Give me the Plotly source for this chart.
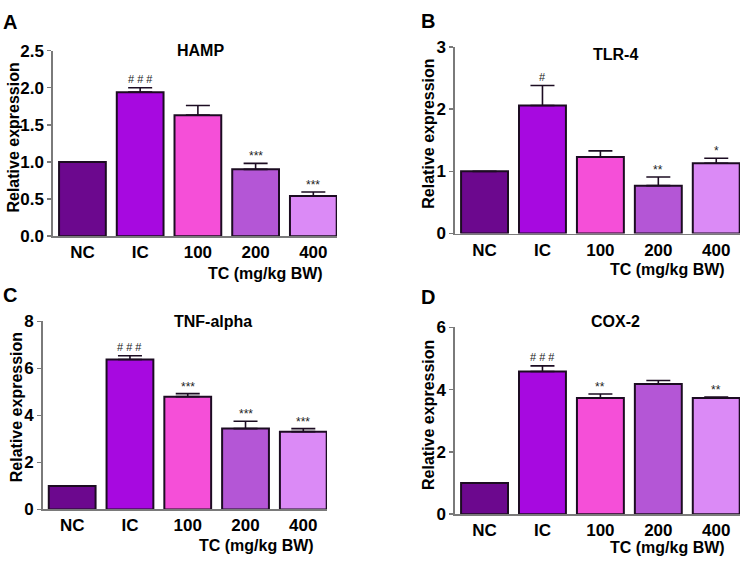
import plotly.graph_objects as go

W, H = 747, 568

categories = ["NC", "IC", "100", "200", "400"]
colors = ["#6c088e", "#a709e0", "#f54fd8", "#b456d6", "#db8af6"]

hamp_vals = [1.0, 1.94, 1.63, 0.90, 0.54]
hamp_err = [0, 0.06, 0.13, 0.08, 0.055]
hamp_sig = ["", "# # #", "", "***", "***"]

tlr4_vals = [1.0, 2.06, 1.23, 0.77, 1.13]
tlr4_err = [0, 0.32, 0.10, 0.14, 0.08]
tlr4_sig = ["", "#", "", "**", "*"]

tnf_vals = [1.0, 6.38, 4.80, 3.44, 3.31]
tnf_err = [0, 0.16, 0.13, 0.31, 0.13]
tnf_sig = ["", "# # #", "***", "***", "***"]

cox2_vals = [1.0, 4.58, 3.73, 4.18, 3.73]
cox2_err = [0, 0.18, 0.13, 0.11, 0.03]
cox2_sig = ["", "# # #", "**", "", "**"]

panels = [
    dict(letter="A", title="HAMP", vals=hamp_vals, err=hamp_err, sig=hamp_sig,
         ymax=2.5, dtick=0.5, fmt=".1f", x0=53, x1=337, yt=43, yb=235,
         letter_xy=(10, 13), title_xy=(200, 43), ytitle_xy=(14, 133), xtitle_xy=(265, 274)),
    dict(letter="B", title="TLR-4", vals=tlr4_vals, err=tlr4_err, sig=tlr4_sig,
         ymax=3, dtick=1, fmt="d", x0=455, x1=740, yt=39.3, yb=232.3,
         letter_xy=(428, 12), title_xy=(615, 47), ytitle_xy=(429, 129), xtitle_xy=(667, 270)),
    dict(letter="C", title="TNF-alpha", vals=tnf_vals, err=tnf_err, sig=tnf_sig,
         ymax=8, dtick=2, fmt="d", x0=42.7, x1=327, yt=323.3, yb=517.7,
         letter_xy=(10, 296), title_xy=(213, 323), ytitle_xy=(16, 412), xtitle_xy=(256, 555)),
    dict(letter="D", title="COX-2", vals=cox2_vals, err=cox2_err, sig=cox2_sig,
         ymax=6, dtick=2, fmt="d", x0=455, x1=740, yt=329.3, yb=522.7,
         letter_xy=(428, 298), title_xy=(615, 323), ytitle_xy=(429, 420), xtitle_xy=(667, 557)),
]


def fx(px):
    return min(1.0, max(0.0, px / W))


def fy(py):
    return min(1.0, max(0.0, 1 - py / H))


FONT = "Arial, Liberation Sans, sans-serif"
AXC = "#7a7a7a"

fig = go.Figure()
annotations = []
layout = {}

for i, p in enumerate(panels):
    n = "" if i == 0 else str(i + 1)
    xa, ya = "x" + n, "y" + n
    fig.add_trace(go.Bar(
        x=list(range(len(categories))), y=p["vals"], xaxis=xa, yaxis=ya,
        marker=dict(color=colors, line=dict(color="#1c0c22", width=2)),
        error_y=dict(type="data", array=p["err"], arrayminus=[0] * 5, symmetric=False,
                     color="#1c0c22", thickness=1.6, width=12, visible=True),
        showlegend=False, hoverinfo="skip",
    ))
    layout["xaxis" + n] = dict(
        domain=[fx(p["x0"]), fx(p["x1"])], anchor=ya, range=[-0.51, 4.41],
        tickmode="array", tickvals=list(range(len(categories))), ticktext=categories,
        showline=True, linecolor=AXC, linewidth=1.6,
        ticks="", showgrid=False, zeroline=False, fixedrange=True,
        tickfont=dict(family=FONT, size=17, color="black", weight="bold"),
    )
    layout["yaxis" + n] = dict(
        domain=[fy(p["yb"]), fy(p["yt"])], anchor=xa, range=[0, p["ymax"]],
        dtick=p["dtick"], tick0=0, fixedrange=True,
        tickformat=".1f" if p["fmt"] == ".1f" else "d",
        showline=True, linecolor=AXC, linewidth=1.6, ticks="outside", ticklen=4,
        tickwidth=1.5, tickcolor=AXC, showgrid=False, zeroline=False,
        tickfont=dict(family=FONT, size=17, color="black", weight="bold"),
    )
    for k, (v, e, s) in enumerate(zip(p["vals"], p["err"], p["sig"])):
        if s:
            annotations.append(dict(
                x=k, y=v + e, xref=xa, yref=ya, text=s, showarrow=False,
                yanchor="bottom", yshift=-2 if "*" in s else 1,
                font=dict(family=FONT, size=12 if "*" in s else 11, color="#222"),
            ))
    lx, ly = p["letter_xy"]
    annotations.append(dict(x=fx(lx), y=fy(ly), xref="paper", yref="paper", text=p["letter"],
                            showarrow=False, xanchor="center", yanchor="middle",
                            font=dict(family=FONT, size=20, color="black", weight="bold")))
    tx, ty = p["title_xy"]
    annotations.append(dict(x=fx(tx), y=fy(ty), xref="paper", yref="paper", text=p["title"],
                            showarrow=False, xanchor="center", yanchor="middle",
                            font=dict(family=FONT, size=16, color="black", weight="bold")))
    yx, yy = p["ytitle_xy"]
    annotations.append(dict(x=fx(yx), y=fy(yy), xref="paper", yref="paper",
                            text="Relative expression", textangle=-90,
                            showarrow=False, xanchor="center", yanchor="middle",
                            font=dict(family=FONT, size=16, color="black", weight="bold")))
    ax, ay = p["xtitle_xy"]
    annotations.append(dict(x=fx(ax), y=fy(ay), xref="paper", yref="paper",
                            text="TC (mg/kg BW)",
                            showarrow=False, xanchor="center", yanchor="middle",
                            font=dict(family=FONT, size=16, color="black", weight="bold")))

fig.update_layout(
    width=W, height=H, margin=dict(l=0, r=0, t=0, b=0),
    paper_bgcolor="white", plot_bgcolor="white", hovermode=False,
    bargap=0.19, annotations=annotations, **layout,
)

fig.write_html(
    "out.html",
    config={"displayModeBar": False, "staticPlot": True},
    post_script="document.body.style.margin='0';document.body.style.overflow='hidden';",
)
